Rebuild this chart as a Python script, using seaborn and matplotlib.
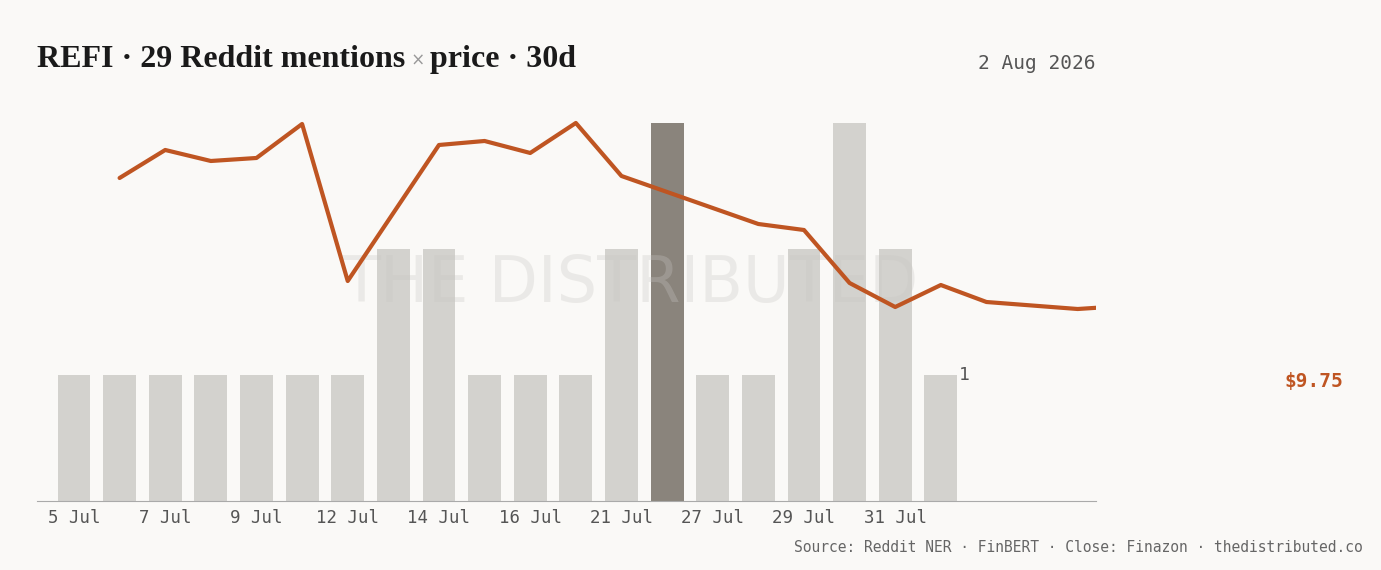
import numpy as np
import pandas as pd
import matplotlib
matplotlib.use("Agg")
import matplotlib.pyplot as plt
import seaborn as sns

# mention counts per trading-day slot
slots = list(range(20))
mentions = [1, 1, 1, 1, 1, 1, 1, 2, 2, 1, 1, 1, 2, 3, 1, 1, 2, 3, 2, 1]
tick_pos = [0, 2, 4, 6, 8, 10, 12, 14, 16, 18]
tick_labels = ["5 Jul", "7 Jul", "9 Jul", "12 Jul", "14 Jul", "16 Jul",
               "21 Jul", "27 Jul", "29 Jul", "31 Jul"]
peak_slot = 13

# closing price by slot (gaps where no close)
price_slots = [1, 2, 3, 4, 5, 6, 8, 9, 10, 11, 12, 15, 16, 17, 18, 19, 20, 22, 23]
price = [11.03, 11.31, 11.20, 11.23, 11.57, 10.00, 11.36, 11.40, 11.28, 11.58,
         11.05, 10.57, 10.51, 9.98, 9.74, 9.96, 9.79, 9.72, 9.75]

bg = "#faf9f7"
sns.set_style("white")
plt.rcParams["font.family"] = ["DejaVu Sans"]

fig = plt.figure(figsize=(13.81, 5.70), dpi=100, facecolor=bg)
ax = fig.add_axes([0.0268, 0.121, 0.7668, 0.7036])
ax.set_facecolor(bg)

df = pd.DataFrame({"slot": slots, "mentions": mentions})
colors = ["#8a847c" if s == peak_slot else "#d3d2ce" for s in slots]
ax.bar(df["slot"], df["mentions"], width=0.72, color=colors, linewidth=0, zorder=1)
ax.set_xlim(-0.81, 22.4)
ax.set_ylim(0, 3.18)
ax.set_yticks([])
ax.set_xticks(tick_pos)
ax.set_xticklabels(tick_labels, family="DejaVu Sans Mono", fontsize=12.5, color="#555555")
ax.tick_params(axis="x", length=0, pad=6)
for s in ["top", "right", "left"]:
    ax.spines[s].set_visible(False)
ax.spines["bottom"].set_color("#aaaaaa")
ax.text(19.4, 1.0, "1", family="DejaVu Sans Mono", fontsize=13, color="#555555", va="center")

ax.text(0.56, 0.54, "THE DISTRIBUTED", transform=ax.transAxes, ha="center", va="center",
        fontsize=46, color="#c8c6c2", alpha=0.3, zorder=3)

ax2 = ax.twinx()
pdf = pd.DataFrame({"slot": price_slots, "price": price})
sns.lineplot(data=pdf, x="slot", y="price", ax=ax2, color="#bf5522", linewidth=3)
ax2.set_ylim(7.80, 11.81)
ax2.set_xlim(-0.81, 22.4)
ax2.set_yticks([])
ax2.set_ylabel("")
ax2.set_xlabel("")
ax.set_xlabel("")
for s in ["top", "right", "left", "bottom"]:
    ax2.spines[s].set_visible(False)

# title pieces placed one after another
renderer = fig.canvas.get_renderer()
x = 0.027
parts = [("REFI · 29 Reddit mentions", dict(family="Liberation Serif", fontsize=23, fontweight="bold", color="#1a1a1a")),
         (" × ", dict(fontsize=12, color="#999999")),
         ("price · 30d", dict(family="Liberation Serif", fontsize=23, fontweight="bold", color="#1a1a1a"))]
for txt, kw in parts:
    t = fig.text(x, 0.895, txt, va="center", **kw)
    bb = t.get_window_extent(renderer=renderer)
    x += bb.width / fig.bbox.width

fig.text(0.7936, 0.889, "2 Aug 2026", family="DejaVu Sans Mono", fontsize=14,
         color="#555555", ha="right", va="center")
fig.text(0.973, 0.33, "$9.75", family="DejaVu Sans Mono", fontsize=14, fontweight="bold",
         color="#bf5522", ha="right", va="center")
fig.text(0.9865, 0.04, "Source: Reddit NER · FinBERT · Close: Finazon · thedistributed.co",
         family="DejaVu Sans Mono", fontsize=10.5, color="#666666", ha="right", va="center")

fig.savefig("out.png", dpi=100, facecolor=bg)
